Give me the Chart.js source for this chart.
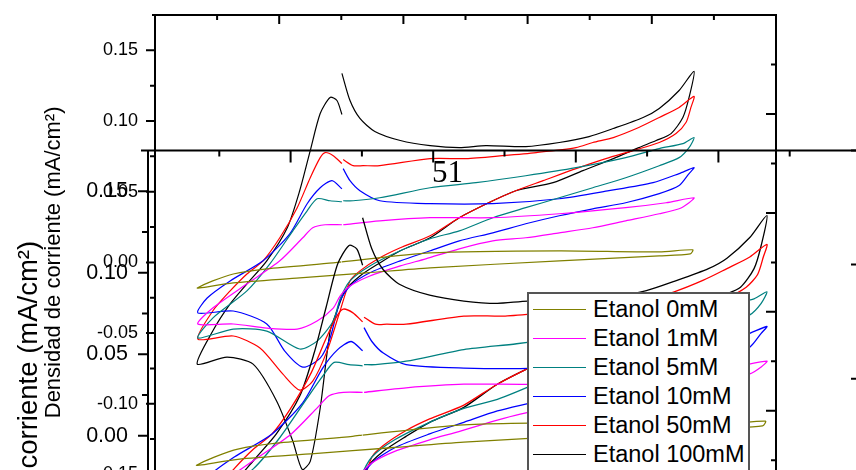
<!DOCTYPE html>
<html>
<head>
<meta charset="utf-8">
<script src="https://cdn.jsdelivr.net/npm/chart.js@4.4.1/dist/chart.umd.min.js"></script>
<style>
html,body{margin:0;padding:0;width:856px;height:470px;overflow:hidden;background:#fff;}
canvas{position:absolute;left:0;top:0;}
#legend{position:absolute;left:527px;top:292px;width:223px;height:200px;border:2px solid #555;background:#fff;box-sizing:border-box;font-family:'Liberation Sans',Arial,sans-serif;}
#legend .row{position:absolute;left:0;height:30px;width:220px;}
#legend .smp{position:absolute;left:4px;top:14.5px;width:53px;height:1px;}
#legend .txt{position:absolute;left:64px;top:0;line-height:30px;font-size:23.5px;color:#000;white-space:nowrap;}
#stray{position:absolute;left:432px;top:156px;font-family:'Liberation Serif','Times New Roman',serif;font-size:31px;line-height:31px;color:#000;}
</style>
</head>
<body>
<canvas id="cA" width="856" height="530"></canvas>
<canvas id="cB" width="1000" height="760"></canvas>
<div id="stray">51</div>
<div id="legend"></div>
<script>
// ---------- data ----------
const SERIES_NAMES = ['Etanol 0mM','Etanol 1mM','Etanol 5mM','Etanol 10mM','Etanol 50mM','Etanol 100mM'];
const SERIES_COLORS = ['#808000','#ff00ff','#008080','#0000ff','#ff0000','#000000'];

const E_0   = [0.101,0.243,0.451,0.612,0.666, 0.662,0.612,0.451,0.243,0.141,0.033,-0.074,-0.128,-0.132, -0.107,-0.074,-0.020,0.087,0.100];
const J_0   = [0.0004,0.0067,0.0082,0.0074,0.0089, 0.0060,0.0046,0.0011,-0.0039,-0.0074,-0.0110,-0.0145,-0.0181,-0.0181, -0.0131,-0.0082,-0.0046,-0.0004,0.0004];

const E_1   = [0.103,0.162,0.243,0.344,0.451,0.558,0.623,0.668,
               0.660,0.644,0.612,0.558,0.505,0.451,0.397,0.344,0.290,0.236,0.195,0.146,0.114,0.098,0.087,0.061,0.029,-0.020,-0.074,-0.131,
               -0.107,-0.052,0.001,0.038,0.054,0.074,0.101];
const J_1   = [0.0266,0.0294,0.0316,0.0316,0.0344,0.0387,0.0422,0.0457,
               0.0422,0.0379,0.0344,0.0294,0.0245,0.0209,0.0174,0.0152,0.0096,0.0025,-0.0025,-0.0096,-0.0167,-0.0238,-0.0323,-0.0415,-0.0472,-0.0465,-0.0436,-0.0436,
               -0.0323,-0.0152,0.0011,0.0174,0.0245,0.0266,0.0266];

const E_5   = [0.103,0.119,0.162,0.243,0.317,0.397,0.478,0.558,0.612,0.650,0.668,
               0.660,0.644,0.612,0.558,0.505,0.451,0.397,0.344,0.290,0.243,0.195,0.146,0.114,0.098,0.087,0.061,0.033,-0.020,-0.074,-0.131,
               -0.107,-0.052,-0.015,0.022,0.045,0.061,0.082,0.101];
const J_5   = [0.0436,0.0436,0.0457,0.0528,0.0564,0.0613,0.0670,0.0741,0.0805,0.0840,0.0883,
               0.0812,0.0741,0.0684,0.0599,0.0528,0.0457,0.0387,0.0316,0.0223,0.0167,0.0082,-0.0025,-0.0131,-0.0259,-0.0415,-0.0557,-0.0613,-0.0486,-0.0472,-0.0535,
               -0.0394,-0.0202,-0.0011,0.0223,0.0365,0.0450,0.0436,0.0429];

const E_10  = [0.103,0.114,0.130,0.162,0.243,0.344,0.451,0.531,0.602,0.644,0.668,
               0.660,0.644,0.612,0.558,0.505,0.451,0.397,0.344,0.290,0.243,0.195,0.146,0.114,0.098,0.082,0.066,0.038,0.009,-0.020,-0.074,-0.131,
               -0.116,-0.079,-0.026,0.017,0.045,0.066,0.085,0.101];
const J_10  = [0.0663,0.0578,0.0507,0.0436,0.0415,0.0415,0.0450,0.0507,0.0564,0.0628,0.0670,
               0.0628,0.0543,0.0486,0.0422,0.0379,0.0330,0.0273,0.0209,0.0152,0.0082,0.0011,-0.0074,-0.0167,-0.0273,-0.0535,-0.0677,-0.0741,-0.0628,-0.0436,-0.0344,-0.0358,
               -0.0252,-0.0131,0.0011,0.0202,0.0415,0.0528,0.0578,0.0521];

const E_50  = [0.103,0.119,0.135,0.162,0.243,0.301,0.360,0.414,0.478,0.505,0.538,0.579,0.612,0.644,0.668,
               0.663,0.655,0.639,0.612,0.570,0.526,0.478,0.425,0.381,0.344,0.290,0.243,0.195,0.162,0.130,0.114,0.098,0.077,0.054,0.033,0.006,-0.031,-0.074,-0.131,
               -0.107,-0.079,-0.052,-0.026,0.001,0.029,0.050,0.066,0.074,0.087,0.101];
const J_50  = [0.0727,0.0684,0.0684,0.0684,0.0734,0.0734,0.0755,0.0777,0.0812,0.0848,0.0883,0.0954,0.1025,0.1096,0.1174,
               0.1096,0.0989,0.0911,0.0848,0.0791,0.0734,0.0663,0.0578,0.0507,0.0436,0.0316,0.0188,0.0103,0.0032,-0.0060,-0.0131,-0.0344,-0.0628,-0.0840,-0.0904,-0.0791,-0.0606,-0.0521,-0.0543,
               -0.0344,-0.0202,-0.0082,0.0011,0.0174,0.0387,0.0599,0.0741,0.0777,0.0755,0.0699];

const E_100 = [0.101,0.114,0.130,0.154,0.195,0.243,0.290,0.333,0.397,0.451,0.499,0.538,0.586,0.612,0.644,0.668,
               0.660,0.650,0.631,0.607,0.579,0.538,0.489,0.441,0.381,0.344,0.290,0.243,0.195,0.162,0.130,0.106,0.093,0.082,0.066,0.050,0.037,0.022,-0.004,-0.042,-0.084,-0.132,
               -0.107,-0.079,-0.052,-0.020,0.013,0.033,0.050,0.066,0.082,0.093,0.101];
const J_100 = [0.1337,0.1145,0.1018,0.0926,0.0862,0.0826,0.0812,0.0826,0.0819,0.0848,0.0890,0.0947,0.1025,0.1089,0.1216,0.1351,
               0.1167,0.1025,0.0911,0.0862,0.0812,0.0734,0.0649,0.0564,0.0507,0.0436,0.0316,0.0174,0.0082,-0.0004,-0.0096,-0.0202,-0.0344,-0.0486,-0.1032,-0.1408,-0.1465,-0.1266,-0.0982,-0.0720,-0.0670,-0.0720,
               -0.0486,-0.0294,-0.0152,0.0011,0.0245,0.0507,0.0791,0.1053,0.1167,0.1145,0.1046];

const SERIES_E = [E_0, E_1, E_5, E_10, E_50, E_100];
const SERIES_J = [J_0, J_1, J_5, J_10, J_50, J_100];

// axis ranges and ticks
const X_MIN = -0.2, X_MAX = 0.8;
const Y_MIN = -0.175, Y_MAX = 0.175;
const X_MAJOR_TICKS = [-0.2, 0, 0.2, 0.4, 0.6, 0.8];
const X_MINOR_TICKS = [-0.1, 0.1, 0.3, 0.5, 0.7];
const Y_TICKS = [-0.15, -0.10, -0.05, 0.00, 0.05, 0.10, 0.15];
const Y_MINOR_TICKS = [-0.125, -0.075, -0.025, 0.025, 0.075, 0.125];
const R_MAJOR_TICKS = [-0.175, -0.105, -0.035, 0.035, 0.105, 0.175];
const R_MINOR_TICKS = [-0.14, -0.07, 0, 0.07, 0.14];
const Y_TITLE = 'Densidad de corriente (mA/cm²)';

// ---------- drawing ----------
const FONT = "'Liberation Sans', Arial, sans-serif";

const framePlugin = {
  id: 'frame',
  afterDraw(chart, args, o) {
    const {ctx, chartArea: a} = chart;
    const xs = chart.scales.x, ys = chart.scales.y;
    ctx.save();
    ctx.strokeStyle = '#000';
    ctx.lineWidth = o.lw;
    ctx.lineCap = 'square';
    ctx.beginPath();
    ctx.moveTo(a.left - o.ext, a.top); ctx.lineTo(a.right, a.top);
    ctx.moveTo(a.left, a.top); ctx.lineTo(a.left, a.bottom);
    ctx.moveTo(a.right, a.top); ctx.lineTo(a.right, a.bottom);
    ctx.moveTo(a.left, a.bottom); ctx.lineTo(a.right, a.bottom);
    ctx.stroke();
    ctx.lineCap = 'butt';
    ctx.beginPath();
    X_MAJOR_TICKS.forEach(v => { const p = xs.getPixelForValue(v); ctx.moveTo(p, a.top); ctx.lineTo(p, a.top + o.topMajor); });
    X_MINOR_TICKS.forEach(v => { const p = xs.getPixelForValue(v); ctx.moveTo(p, a.top); ctx.lineTo(p, a.top + o.topMinor); });
    Y_TICKS.forEach(v => { const p = ys.getPixelForValue(v); ctx.moveTo(a.left, p); ctx.lineTo(a.left - o.leftMajor, p); });
    Y_MINOR_TICKS.forEach(v => { const p = ys.getPixelForValue(v); ctx.moveTo(a.left, p); ctx.lineTo(a.left - o.leftMinor, p); });
    R_MAJOR_TICKS.forEach(v => { const p = ys.getPixelForValue(v); ctx.moveTo(a.right, p); ctx.lineTo(a.right - o.rightMajor, p); });
    R_MINOR_TICKS.forEach(v => { const p = ys.getPixelForValue(v); ctx.moveTo(a.right, p); ctx.lineTo(a.right - o.rightMinor, p); });
    ctx.stroke();
    ctx.restore();
  }
};

function buildDatasets(lw) {
  return SERIES_NAMES.map((name, i) => ({
    label: name,
    data: SERIES_E[i].map((e, k) => ({x: e, y: SERIES_J[i][k]})),
    borderColor: SERIES_COLORS[i],
    backgroundColor: SERIES_COLORS[i],
    borderWidth: lw,
    showLine: true,
    pointRadius: 0,
    tension: 0.25,
    fill: false
  }));
}

function makeChart(id, s) {
  return new Chart(document.getElementById(id), {
    type: 'scatter',
    data: { datasets: buildDatasets(s.dataLw) },
    plugins: [framePlugin],
    options: {
      responsive: false,
      animation: false,
      devicePixelRatio: 1,
      layout: { padding: { top: s.padTop, bottom: s.padBottom, left: 0, right: s.padRight } },
      plugins: {
        legend: { display: false },
        tooltip: { enabled: false },
        frame: s.frame
      },
      scales: {
        x: { type: 'linear', min: X_MIN, max: X_MAX, display: false },
        y: {
          type: 'linear', position: 'left', min: Y_MIN, max: Y_MAX,
          afterBuildTicks: sc => { sc.ticks = Y_TICKS.map(v => ({value: v})); },
          afterFit: sc => { sc.width = s.axisWidth; sc.paddingTop = 0; sc.paddingBottom = 0; },
          grid: { display: false, drawTicks: false },
          border: { display: false },
          ticks: {
            color: '#000', padding: s.labelPad,
            font: { family: FONT, size: s.labelSize },
            callback: v => Number(v).toFixed(2)
          },
          title: {
            display: true, text: Y_TITLE, color: '#000',
            font: { family: FONT, size: s.titleSize },
            padding: { top: s.titlePad, bottom: 0 }
          }
        }
      }
    }
  });
}

// lower layer (smaller copy)
makeChart('cA', {
  dataLw: 1.2, padTop: 15, padBottom: 20.25, padRight: 80, axisWidth: 155,
  labelSize: 18, labelPad: 17, titleSize: 22, titlePad: 41,
  frame: { lw: 2, ext: 2, topMajor: 9, topMinor: 5, leftMajor: 9, leftMinor: 5, rightMajor: 10, rightMinor: 5 }
});
// upper layer (larger copy)
makeChart('cB', {
  dataLw: 1.3, padTop: 150.45, padBottom: 39.05, padRight: 139, axisWidth: 148,
  labelSize: 21.5, labelPad: 20, titleSize: 27.5, titlePad: 12.5,
  frame: { lw: 2, ext: 6, topMajor: 12, topMinor: 6, leftMajor: 10, leftMinor: 6, rightMajor: 10, rightMinor: 5 }
});

// legend
const lg = document.getElementById('legend');
SERIES_NAMES.forEach((name, i) => {
  const row = document.createElement('div');
  row.className = 'row';
  row.style.top = (29 * i) + 'px';
  const smp = document.createElement('div');
  smp.className = 'smp';
  smp.style.background = SERIES_COLORS[i];
  const txt = document.createElement('div');
  txt.className = 'txt';
  txt.textContent = name;
  row.appendChild(smp); row.appendChild(txt);
  lg.appendChild(row);
});
</script>
</body>
</html>
